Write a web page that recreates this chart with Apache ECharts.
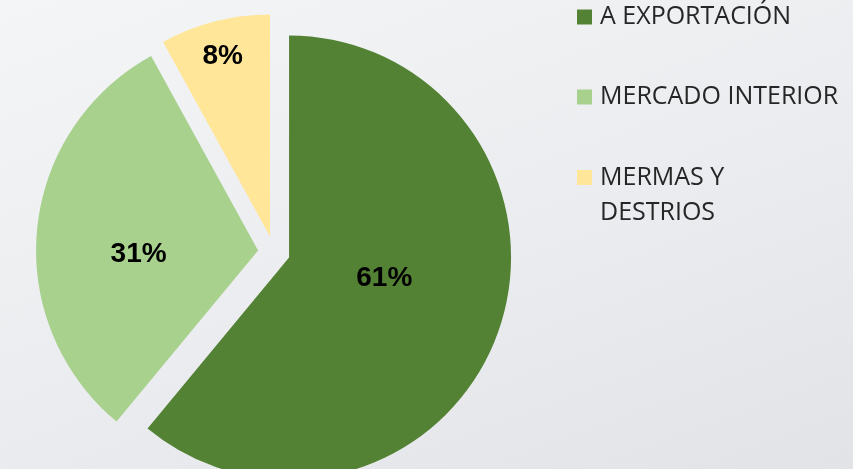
<!DOCTYPE html>
<html>
<head>
<meta charset="utf-8">
<script src="https://cdn.jsdelivr.net/npm/echarts@6/dist/echarts.min.js"></script>
<style>
html, body { margin: 0; padding: 0; }
#chart {
	width: 853px;
	height: 469px;
	background: linear-gradient(160deg, #f4f5f6 0%, #ebecef 55%, #e2e3e7 100%);
}
</style>
</head>
<body>
<div id="chart"></div>
<script>
const categories = ['A EXPORTACIÓN', 'MERCADO INTERIOR', 'MERMAS Y DESTRIOS']
const shares = [61, 31, 8]
const colors = ['#548235', '#a9d18e', '#ffe699']
// nudges so the labels sit where the original put them
const labelOffsets = [[-12, -18], [-6, 15], [-19, -70]]

const chart = echarts.init(document.getElementById('chart'))

const pieData = categories.map(function (name, i) {
	return {
		name: name,
		value: shares[i],
		selected: true,
		itemStyle: { color: colors[i] }
	}
})

const option = {
	animation: false,
	textStyle: { fontFamily: 'Open Sans' },
	legend: [
		{
			orient: 'vertical',
			left: 577,
			top: 2,
			padding: 0,
			itemWidth: 15,
			itemHeight: 15,
			itemGap: 50,
			icon: 'rect',
			selectedMode: false,
			data: categories.slice(0, 2),
			textStyle: {
				fontFamily: 'Open Sans',
				fontSize: 25,
				lineHeight: 30,
				color: '#262626',
				padding: [0, 0, 0, 3]
			}
		},
		{
			orient: 'vertical',
			left: 577,
			top: 160,
			padding: 0,
			itemWidth: 15,
			itemHeight: 50,
			icon: 'path://M0,0H15V15H0Z M0,50L0.01,50L0,50.01Z',
			selectedMode: false,
			data: categories.slice(2),
			formatter: function (name) {
				return name.replace('Y ', 'Y\n')
			},
			textStyle: {
				fontFamily: 'Open Sans',
				fontSize: 25,
				lineHeight: 35,
				color: '#262626',
				padding: [0, 0, 0, 3]
			}
		}
	],
	series: [
		{
			type: 'pie',
			center: [274, 252],
			radius: 222,
			startAngle: 90,
			clockwise: true,
			selectedMode: 'multiple',
			selectedOffset: 16,
			label: {
				show: true,
				position: 'inside',
				formatter: '{c}%',
				fontFamily: 'Liberation Sans',
				fontWeight: 'bold',
				fontSize: 28,
				color: '#000'
			},
			labelLayout: function (params) {
				return {
					dx: labelOffsets[params.dataIndex][0],
					dy: labelOffsets[params.dataIndex][1]
				}
			},
			labelLine: { show: false },
			emphasis: { scale: false },
			select: { itemStyle: { borderWidth: 0 } },
			data: pieData
		}
	]
}

chart.setOption(option)
</script>
</body>
</html>
